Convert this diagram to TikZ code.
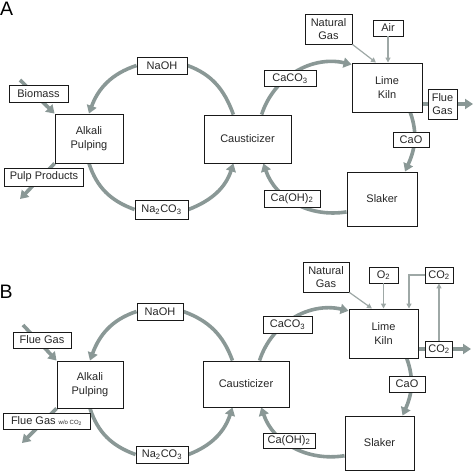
\documentclass[tikz,border=0pt]{standalone}
\usepackage{fontspec}
\setmainfont{Liberation Sans}
\usetikzlibrary{arrows.meta,backgrounds}
\definecolor{flowgray}{RGB}{138,152,150}
\definecolor{feedgray}{RGB}{158,168,166}

\begin{document}
\begin{tikzpicture}[x=1pt,y=1pt,
	font=\fontsize{11}{13.5}\selectfont,
	box/.style={draw=black!90, line width=0.9pt, fill=white, inner sep=0pt, align=center, text=black!85},
	panel/.style={anchor=base west, inner sep=0pt, font=\fontsize{19.5}{20}\selectfont},
	flow/.style={draw=flowgray, line width=3.6pt},
	flowtip/.style={flow, -{Triangle[length=8pt,width=10pt]}},
	feed/.style={draw=feedgray, line width=1.2pt, -{Triangle[length=5pt,width=5pt]}}]
	
	\useasboundingbox (0,0) rectangle (474,-471);
	
	% A
	\node[panel] (labA) at (0,-15) {A};
	\node[box, minimum width=50pt, minimum height=17pt] (naohA) at (162,-65.5) {NaOH};
	\node[box, minimum width=59pt, minimum height=17pt] (biomA) at (38.5,-93.5) {Biomass};
	\node[box, minimum width=68pt, minimum height=49pt] (pulpA) at (89,-138.5) {Alkali\\Pulping};
	\node[box, minimum width=79pt, minimum height=18pt] (prodA) at (44,-177) {Pulp Products};
	\node[box, minimum width=53pt, minimum height=19pt] (nacoA) at (161.5,-209.5) {Na\textsubscript{2}CO\textsubscript{3}};
	\node[box, minimum width=87pt, minimum height=48pt] (causA) at (247.5,-139) {Causticizer};
	\node[box, minimum width=52pt, minimum height=16pt] (cacoA) at (290,-78.5) {CaCO\textsubscript{3}};
	\node[box, minimum width=47pt, minimum height=30pt] (ngasA) at (328.5,-29) {Natural\\Gas};
	\node[box, minimum width=30pt, minimum height=16pt] (airA) at (388,-28) {Air};
	\node[box, minimum width=70pt, minimum height=49pt] (kilnA) at (387,-87.5) {Lime\\Kiln};
	\node[box, minimum width=29pt, minimum height=30pt] (flueA) at (442.5,-104) {Flue\\Gas};
	\node[box, minimum width=36pt, minimum height=15pt] (caoA) at (411,-139.5) {CaO};
	\node[box, minimum width=70pt, minimum height=54pt] (slakA) at (382,-199) {Slaker};
	\node[box, minimum width=56pt, minimum height=17pt] (cohA) at (292,-198.5) {Ca(OH)\textsubscript{2}};
	
	\coordinate (biomsrcA) at (20,-80);
	\coordinate (prodendA) at (20,-199);
	\coordinate (flueendA) at (473,-104);
	
	\begin{scope}[on background layer]
		\draw[flow] (causA.120) to[out=110,in=-20] (naohA.east);
		\draw[flowtip] (naohA.west) to[out=198,in=70] (pulpA.north);
		\draw[flow] (pulpA.south) to[out=-72,in=160] (nacoA.west);
		\draw[flowtip] (nacoA.east) to[out=21,in=252] (causA.240);
		
		\draw[flowtip] (causA.60) to[out=72,in=167] (kilnA.147);
		\draw[flowtip] (kilnA.-47) to[out=-70,in=66] (slakA.50);
		\draw[flowtip] (slakA.200) to[out=189,in=-71] (causA.-57);
		
		\draw[flowtip] (biomsrcA) -- (pulpA.north west);
		\draw[flowtip] (pulpA.south west) -- (prodendA);
		\draw[flowtip] (kilnA.east |- flueA.west) -- (flueendA);
	\end{scope}
	
	\draw[feed] (ngasA.south east) -- ([xshift=-11pt]kilnA.north);
	\draw[feed] (airA.south) -- (airA.south |- kilnA.north);
	
	% B
	\node[panel] (labB) at (-0.5,-298) {B};
	\node[box, minimum width=46pt, minimum height=17pt] (naohB) at (160,-311.5) {NaOH};
	\node[box, minimum width=58pt, minimum height=16pt] (flueinB) at (42,-340) {Flue Gas};
	\node[box, minimum width=66pt, minimum height=47pt] (pulpB) at (90,-384.5) {Alkali\\Pulping};
	\node[box, minimum width=87pt, minimum height=16pt] (flueoutB) at (46.5,-421) {Flue Gas {\fontsize{6}{7}\selectfont w/o CO\textsubscript{2}}};
	\node[box, minimum width=52pt, minimum height=17pt] (nacoB) at (162,-454.5) {Na\textsubscript{2}CO\textsubscript{3}};
	\node[box, minimum width=86pt, minimum height=46pt] (causB) at (246,-384) {Causticizer};
	\node[box, minimum width=49pt, minimum height=17pt] (cacoB) at (287.5,-324.5) {CaCO\textsubscript{3}};
	\node[box, minimum width=46pt, minimum height=30pt] (ngasB) at (326,-277) {Natural\\Gas};
	\node[box, minimum width=29pt, minimum height=16pt] (otwoB) at (383.5,-275) {O\textsubscript{2}};
	\node[box, minimum width=28pt, minimum height=16pt] (cotopB) at (439,-275) {CO\textsubscript{2}};
	\node[box, minimum width=69pt, minimum height=49pt] (kilnB) at (383.5,-333.5) {Lime\\Kiln};
	\node[box, minimum width=27pt, minimum height=16pt] (cooutB) at (439,-349) {CO\textsubscript{2}};
	\node[box, minimum width=36pt, minimum height=16pt] (caoB) at (407,-384) {CaO};
	\node[box, minimum width=69pt, minimum height=54pt] (slakB) at (379.5,-443) {Slaker};
	\node[box, minimum width=52pt, minimum height=15pt] (cohB) at (289,-440.5) {Ca(OH)\textsubscript{2}};
	
	\coordinate (fluesrcB) at (23,-325);
	\coordinate (flueendB) at (22,-443);
	\coordinate (coendB) at (471,-349);
	
	\begin{scope}[on background layer]
		\draw[flow] (causB.120) to[out=110,in=-20] (naohB.east);
		\draw[flowtip] (naohB.west) to[out=198,in=70] (pulpB.north);
		\draw[flow] (pulpB.south) to[out=-72,in=160] (nacoB.west);
		\draw[flowtip] (nacoB.east) to[out=21,in=252] (causB.240);
		
		\draw[flowtip] (causB.60) to[out=72,in=167] (kilnB.147);
		\draw[flowtip] (kilnB.-47) to[out=-70,in=66] (slakB.50);
		\draw[flowtip] (slakB.200) to[out=189,in=-71] (causB.-57);
		
		\draw[flowtip] (fluesrcB) -- (pulpB.north west);
		\draw[flowtip] (pulpB.south west) -- (flueendB);
		\draw[flowtip] (kilnB.east |- cooutB.west) -- (coendB);
	\end{scope}
	
	\draw[feed] (ngasB.south east) -- ([xshift=-11.5pt]kilnB.north);
	\draw[feed] (otwoB.south) -- (otwoB.south |- kilnB.north);
	\draw[feed] (cooutB.north) -- (cotopB.south);
	\draw[feed] (cotopB.west) -| ([xshift=25.5pt]kilnB.north);
	
\end{tikzpicture}
\end{document}
